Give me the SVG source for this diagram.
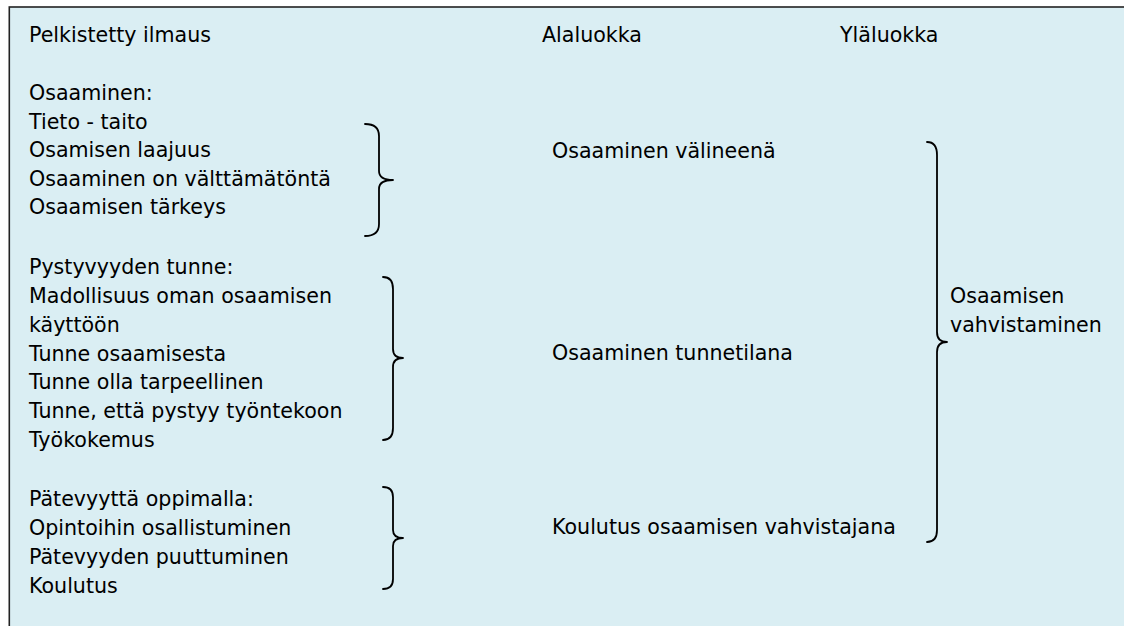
<svg xmlns="http://www.w3.org/2000/svg" width="1124" height="626" viewBox="0 0 1124 626">
  <style>
    text { font-family: "DejaVu Sans", Verdana, sans-serif; font-size: 20.6px; fill: #000; }
    .brace { fill: none; stroke: #000; stroke-width: 1.8; stroke-linecap: round; stroke-linejoin: round; }
  </style>
  <rect x="0" y="0" width="1124" height="626" fill="#ffffff"/>
  <rect id="frame" x="9.3" y="7" width="1130" height="640" fill="#DAEEF3" stroke="#222" stroke-width="1.6"/>

  <g id="headers">
    <text x="29" y="42">Pelkistetty ilmaus</text>
    <text x="542" y="42">Alaluokka</text>
    <text x="840" y="42">Yläluokka</text>
  </g>

  <g id="group-osaaminen">
    <text x="29" y="100">Osaaminen:</text>
    <text x="29" y="128.5">Tieto - taito</text>
    <text x="29" y="157">Osamisen laajuus</text>
    <text x="29" y="185.5">Osaaminen on välttämätöntä</text>
    <text x="29" y="214">Osaamisen tärkeys</text>
  </g>

  <g id="group-pystyvyys">
    <text x="29" y="274">Pystyvyyden tunne:</text>
    <text x="29" y="303">Madollisuus oman osaamisen</text>
    <text x="29" y="331.7">käyttöön</text>
    <text x="29" y="360.5">Tunne osaamisesta</text>
    <text x="29" y="389.3">Tunne olla tarpeellinen</text>
    <text x="29" y="418">Tunne, että pystyy työntekoon</text>
    <text x="29" y="447">Työkokemus</text>
  </g>

  <g id="group-patevyys">
    <text x="29" y="506">Pätevyyttä oppimalla:</text>
    <text x="29" y="535">Opintoihin osallistuminen</text>
    <text x="29" y="564">Pätevyyden puuttuminen</text>
    <text x="29" y="593">Koulutus</text>
  </g>

  <g id="subcat-valineena">
    <text x="552" y="158">Osaaminen välineenä</text>
  </g>
  <g id="subcat-tunnetilana">
    <text x="552" y="360">Osaaminen tunnetilana</text>
  </g>
  <g id="subcat-koulutus">
    <text x="552" y="534">Koulutus osaamisen vahvistajana</text>
  </g>

  <g id="maincat">
    <text x="950" y="303">Osaamisen</text>
    <text x="950" y="332">vahvistaminen</text>
  </g>

  <g id="connectors">
    <path class="brace" d="M365,124 Q379,124 379,136 L379,171 Q379,180 393,180 Q379,180 379,189 L379,224 Q379,236 365,236"/>
    <path class="brace" d="M383,277 Q393,277 393,289 L393,349 Q393,358 403,358 Q393,358 393,367 L393,428 Q393,440 383,440"/>
    <path class="brace" d="M383,487 Q393,487 393,497 L393,530 Q393,538 403,538 Q393,538 393,546 L393,579 Q393,589 383,589"/>
    <path class="brace" d="M927,142 Q937,142 937,155 L937,332 Q937,342 947,342 Q937,342 937,352 L937,530 Q937,542 927,542"/>
  </g>
</svg>
